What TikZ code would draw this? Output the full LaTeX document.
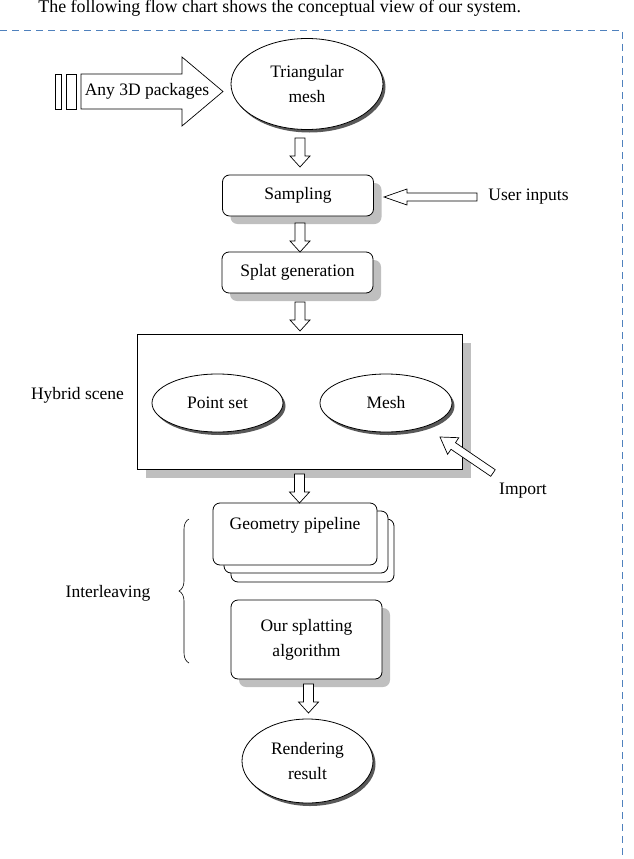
\documentclass[tikz,border=0pt]{standalone}
\usepackage{fontspec}
\setmainfont{Liberation Serif}
\usetikzlibrary{shapes.geometric,shadows,decorations.pathreplacing,calc}
\begin{document}
\begin{tikzpicture}[x=1pt,y=-1pt,
  font=\fontsize{17.5}{25}\selectfont,
  line width=0.8pt,
  rbox/.style={draw, rounded corners=7pt, fill=white, align=center, inner sep=0pt,
    drop shadow={shadow xshift=8pt, shadow yshift=-8pt, fill=black!25, opacity=1}},
  ell/.style={draw, ellipse, fill=white, align=center, inner sep=0pt,
    drop shadow={shadow xshift=2.5pt, shadow yshift=-3pt, fill=black!65, opacity=1}},
  plainbox/.style={draw, rounded corners=7pt, fill=white, inner sep=0pt},
  blockarrow/.style={draw, fill=white, line width=0.7pt, line join=miter},
  lbl/.style={inner sep=0pt},
  downarrow/.pic={\draw[blockarrow] (-5,0) -- (5,0) -- (5,18) -- (10,18) -- (0,29) -- (-10,18) -- (-5,18) -- cycle;}
]
\useasboundingbox (0,0) rectangle (633,859);

% caption and frame
\node[lbl, anchor=west, font=\fontsize{17.9}{25}\selectfont] (cap) at (38,8.5) {The following flow chart shows the conceptual view of our system.};
\draw[dashed, dash pattern=on 7pt off 5pt, draw={rgb,255:red,79;green,129;blue,189}, line width=0.9pt]
  (0,30) -- (622,30) -- (622,859);

% input big arrow
\draw[blockarrow] (55,74) rectangle (61,109);
\draw[blockarrow] (66,74) rectangle (76,109);
\draw[blockarrow] (81,74) -- (182,74) -- (182,57) -- (223,91.5) -- (182,126) -- (182,109) -- (81,109) -- cycle;
\node[lbl] (pkg) at (147,91.5) {Any 3D packages};

% nodes
\node[ell, minimum width=152, minimum height=91] (tri) at (307,84) {Triangular\\mesh};
\node[rbox, minimum width=151, minimum height=41] (samp) at (298,195.5) {Sampling};
\node[rbox, minimum width=151, minimum height=41] (splat) at (297.5,272.5) {Splat generation};
\node[draw, fill=white, minimum width=325, minimum height=135, inner sep=0pt,
  drop shadow={shadow xshift=9pt, shadow yshift=-9pt, fill=black!25, opacity=1}] (hyb) at (299.5,401.5) {};
\node[ell, minimum width=131, minimum height=58] (pts) at (217.5,403) {Point set};
\node[ell, minimum width=132, minimum height=58] (mesh) at (386,403) {Mesh};

% geometry pipeline stack
\node[plainbox, minimum width=163, minimum height=63] (geo3) at (312.5,550.5) {};
\node[plainbox, minimum width=164, minimum height=62] (geo2) at (306,542) {};
\node[plainbox, minimum width=164, minimum height=62] (geo) at (295,534) {};
\node[lbl] (geot) at (295,525) {Geometry pipeline};

\node[rbox, minimum width=151, minimum height=79] (ours) at (306.5,639.5) {Our splatting\\algorithm};
\node[ell, minimum width=131, minimum height=84] (rend) at (307.5,761) {Rendering\\result};

% down arrows
\pic at (300,138) {downarrow};
\pic at (300,223) {downarrow};
\pic at (300,302) {downarrow};
\pic at (299.5,474) {downarrow};
\pic at (308.5,684) {downarrow};

% user inputs
\node[lbl, anchor=west] (usr) at (488,197) {User inputs};
\draw[blockarrow] (384,197) -- (407,189) -- (407,193) -- (477,193) -- (477,201) -- (407,201) -- (407,205) -- cycle;

% import
\node[lbl] (imp) at (523,491) {Import};
\draw[blockarrow] (440,437) -- (458.8,437.7) -- (455.5,442.7) -- (495.25,469.7) -- (490.75,476.3) -- (451.0,449.3) -- (447.6,454.3) -- cycle;

% labels
\node[lbl] (hs) at (77.5,395) {Hybrid scene};
\node[lbl] (il) at (108,593) {Interleaving};
\draw[line width=0.6pt, decorate, decoration={brace, amplitude=10pt}] (189,663) -- (189,519);
\end{tikzpicture}
\end{document}
